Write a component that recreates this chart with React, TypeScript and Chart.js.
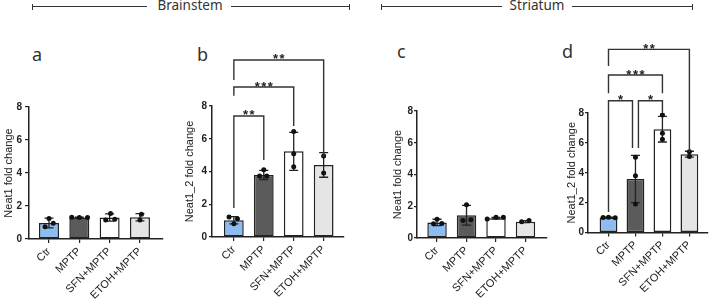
import React, { useEffect, useRef } from 'react';
import { Chart, registerables } from 'chart.js';
Chart.register(...registerables);

// ---------- data ----------
const categories = ['Ctr', 'MPTP', 'SFN+MPTP', 'ETOH+MPTP'];
const yTicks = [0, 2, 4, 6, 8];
const barColors = ['#8dbcf0', '#5b5b5b', '#ffffff', '#e5e5e5'];

// a: Brainstem, Neat1
const aMeans = [0.97, 1.3, 1.3, 1.32];
const aSD = [0.3, 0.03, 0.22, 0.22];
const aPoints = [[1.25, 0.75, 0.95], [1.32, 1.3, 1.3], [1.55, 1.15, 1.2], [1.5, 1.15]];
const aJitter = [[0, -0.13, 0.14], [-0.25, 0, 0.27], [0.03, -0.13, 0.17], [0.05, 0]];

// b: Brainstem, Neat1_2
const bMeans = [1.02, 3.79, 5.23, 4.4];
const bSD = [0.22, 0.28, 1.16, 0.75];
const bPoints = [[1.22, 1.12, 0.81], [4.11, 3.72, 3.72], [6.45, 5.09, 4.29], [4.95, 3.91]];
const bJitter = [[-0.16, 0.12, 0], [0, -0.14, 0.1], [0, 0, 0], [0, 0]];

// c: Striatum, Neat1
const cMeans = [0.98, 1.43, 1.25, 1.03];
const cSD = [0.2, 0.62, 0.05, 0.06];
const cPoints = [[1.18, 0.9, 0.92], [2.1, 1.1, 1.15], [1.2, 1.3, 1.3], [1.02, 1.1]];
const cJitter = [[0, -0.12, 0.16], [0, -0.12, 0.15], [-0.3, 0, 0.25], [-0.13, 0.12]];

// d: Striatum, Neat1_2
const dMeans = [1.0, 3.58, 6.92, 5.24];
const dSD = [0.03, 1.58, 0.86, 0.2];
const dPoints = [[1.0, 1.02, 0.98], [5.04, 3.8, 1.9], [7.87, 6.64, 6.24], [5.4, 5.08]];
const dJitter = [[-0.2, 0, 0.25], [0, 0, 0], [0, 0, 0], [0, 0]];

// significance annotations (data units)
type Bracket = { from: number; to: number; y: number; leftEnd: number; rightEnd: number; label: string };
const bBrackets: Bracket[] = [
  { from: 0, to: 1, y: 7.39, leftEnd: 1.77, rightEnd: 4.7, label: '**' },
  { from: 0, to: 2, y: 9.16, leftEnd: 8.62, rightEnd: 6.78, label: '***' },
  { from: 0, to: 3, y: 10.81, leftEnd: 9.59, rightEnd: 4.89, label: '**' },
];
const dBrackets: Bracket[] = [
  { from: 0, to: 0.89, y: 8.82, leftEnd: 1.37, rightEnd: 5.66, label: '*' },
  { from: 1.11, to: 2, y: 8.82, leftEnd: 5.66, rightEnd: 8.0, label: '*' },
  { from: 0, to: 2, y: 10.54, leftEnd: 9.33, rightEnd: 9.33, label: '***' },
  { from: 0, to: 3, y: 12.26, leftEnd: 11.14, rightEnd: 5.39, label: '**' },
];

// ---------- layout ----------
const W = 712;
const H = 300;
const FONT = "'Liberation Sans', Arial, sans-serif";

type Panel = {
  means: number[]; sd: number[]; points: number[][]; jitter: number[][];
  title: string; brackets: Bracket[];
  left: number; right: number; top: number; bottom: number; titleX: number;
  xMin: number; xMax: number; tick: number; tickPad: number;
};

const panels: Panel[] = [
  { means: aMeans, sd: aSD, points: aPoints, jitter: aJitter, title: 'Neat1 fold change', brackets: [],
    left: 29, right: 163, top: 107, bottom: 239, titleX: 8.5, xMin: -0.66, xMax: 3.76, tick: 4, tickPad: 3 },
  { means: bMeans, sd: bSD, points: bPoints, jitter: bJitter, title: 'Neat1_2 fold change', brackets: bBrackets,
    left: 212, right: 344, top: 106, bottom: 237, titleX: 190, xMin: -0.73, xMax: 3.68, tick: 3, tickPad: 2 },
  { means: cMeans, sd: cSD, points: cPoints, jitter: cJitter, title: 'Neat1 fold change', brackets: [],
    left: 417, right: 547, top: 111, bottom: 238, titleX: 398, xMin: -0.68, xMax: 3.73, tick: 3, tickPad: 1 },
  { means: dMeans, sd: dSD, points: dPoints, jitter: dJitter, title: 'Neat1_2 fold change', brackets: dBrackets,
    left: 588, right: 711, top: 113, bottom: 232.5, titleX: 572, xMin: -0.76, xMax: 3.69, tick: 3, tickPad: 1 },
];

function extrasPlugin(p: Panel) {
  return {
    id: 'extras',
    beforeDatasetDraw(chart: any, args: any) {
      if (args.index !== 1) return;
      const { ctx, scales } = chart;
      const x = scales.x, y = scales.y;
      ctx.save();
      ctx.strokeStyle = '#222';
      ctx.lineWidth = 1.3;
      p.means.forEach((m, i) => {
        const px = x.getPixelForValue(i);
        const top = y.getPixelForValue(m + p.sd[i]);
        const bot = y.getPixelForValue(Math.max(0, m - p.sd[i]));
        ctx.beginPath();
        ctx.moveTo(px, top); ctx.lineTo(px, bot);
        ctx.moveTo(px - 4.5, top); ctx.lineTo(px + 4.5, top);
        ctx.moveTo(px - 4.5, bot); ctx.lineTo(px + 4.5, bot);
        ctx.stroke();
      });
      ctx.restore();
    },
    afterDraw(chart: any) {
      const { ctx, scales } = chart;
      const x = scales.x, y = scales.y;
      ctx.save();
      ctx.strokeStyle = '#333';
      ctx.lineWidth = 1.4;
      ctx.fillStyle = '#222';
      ctx.font = `bold 13px ${FONT}`;
      (ctx as any).letterSpacing = '1.5px';
      ctx.textAlign = 'center';
      ctx.textBaseline = 'alphabetic';
      p.brackets.forEach((b) => {
        const x1 = x.getPixelForValue(b.from);
        const x2 = x.getPixelForValue(b.to);
        const yy = y.getPixelForValue(b.y);
        ctx.beginPath();
        ctx.moveTo(x1, y.getPixelForValue(b.leftEnd));
        ctx.lineTo(x1, yy);
        ctx.lineTo(x2, yy);
        ctx.lineTo(x2, y.getPixelForValue(b.rightEnd));
        ctx.stroke();
        ctx.fillText(b.label, (x1 + x2) / 2 + 0.75, yy + 3.5);
      });
      ctx.restore();
    },
  };
}

function makeChart(canvas: HTMLCanvasElement, p: Panel) {
  const yWidth = p.left - (p.titleX - 6.5);
  const xHeight = 60;
  const scatter = p.points.flatMap((arr, i) => arr.map((v, j) => ({ x: i + p.jitter[i][j], y: v })));
  return new Chart(canvas, {
    type: 'bar',
    data: {
      datasets: [
        {
          type: 'bar',
          data: p.means.map((m, i) => ({ x: i, y: m })) as any,
          backgroundColor: barColors,
          borderColor: '#222',
          borderWidth: 1.5,
          borderSkipped: false,
          categoryPercentage: 1,
          barPercentage: 0.66,
          order: 2,
        } as any,
        {
          type: 'scatter',
          data: scatter as any,
          backgroundColor: '#111',
          borderWidth: 0,
          pointRadius: 2.5,
          order: 1,
        } as any,
      ],
    },
    options: {
      responsive: false,
      animation: false,
      devicePixelRatio: 1,
      events: [],
      layout: {
        padding: {
          left: p.titleX - 6.5,
          right: W - p.right,
          top: p.top,
          bottom: H - p.bottom - xHeight,
        },
      },
      plugins: { legend: { display: false }, tooltip: { enabled: false } },
      scales: {
        x: {
          type: 'linear',
          min: p.xMin,
          max: p.xMax,
          offset: false,
          afterBuildTicks: (s: any) => { s.ticks = categories.map((_, i) => ({ value: i })); },
          afterFit: (s: any) => { s.height = xHeight; },
          ticks: {
            callback: (v: any) => categories[Math.round(Number(v))] ?? '',
            autoSkip: false,
            maxRotation: 45,
            minRotation: 45,
            padding: 2,
            color: '#222',
            font: { family: FONT, size: 11 },
          },
          grid: { drawOnChartArea: false, drawTicks: true, tickLength: 4, color: '#222', lineWidth: 1.2, offset: false },
          border: { display: true, color: '#222', width: 1.5 },
        } as any,
        y: {
          type: 'linear',
          min: 0,
          max: 8,
          afterBuildTicks: (s: any) => { s.ticks = yTicks.map((v) => ({ value: v })); },
          afterFit: (s: any) => { s.width = yWidth; },
          ticks: {
            color: '#222',
            padding: p.tickPad,
            font: { family: FONT, size: 10, weight: 'bold' },
          },
          grid: { drawOnChartArea: false, drawTicks: true, tickLength: p.tick, color: '#222', lineWidth: 1.2 },
          border: { display: true, color: '#222', width: 1.5 },
          title: {
            display: true,
            text: p.title,
            color: '#222',
            padding: 0,
            font: { family: FONT, size: 11, lineHeight: 1.2 },
          },
        } as any,
      },
    },
    plugins: [extrasPlugin(p)],
  });
}

const HEAD_FONT = "'Noto Sans', 'Open Sans', sans-serif";

function Header({ text, x1, x2, tx, gapL, gapR }: { text: string; x1: number; x2: number; tx: number; gapL: number; gapR: number }) {
  const line = (l: number, r: number) => (
    <div style={{ position: 'absolute', left: l, top: 6, width: r - l, height: 1.2, background: '#333' }} />
  );
  const cap = (l: number) => (
    <div style={{ position: 'absolute', left: l, top: 4, width: 1.2, height: 5.5, background: '#333' }} />
  );
  return (
    <>
      {line(x1, gapL)}
      {line(gapR, x2)}
      {cap(x1)}
      {cap(x2 - 1)}
      <div style={{ position: 'absolute', left: tx - 60, width: 120, top: -1, textAlign: 'center', font: `13.5px/1 ${HEAD_FONT}`, color: '#333', whiteSpace: 'nowrap' }}>{text}</div>
    </>
  );
}

function Letter({ ch, x, baseline }: { ch: string; x: number; baseline: number }) {
  return (
    <div style={{ position: 'absolute', left: x, top: baseline - 16, font: `18px/1 ${HEAD_FONT}`, color: '#333' }}>{ch}</div>
  );
}

export default function App() {
  const refs = [useRef<HTMLCanvasElement>(null), useRef<HTMLCanvasElement>(null), useRef<HTMLCanvasElement>(null), useRef<HTMLCanvasElement>(null)];
  useEffect(() => {
    const charts = panels.map((p, i) => makeChart(refs[i].current as HTMLCanvasElement, p));
    return () => charts.forEach((c) => c.destroy());
  }, []);
  return (
    <div style={{ position: 'absolute', left: 0, top: 0, width: W, height: H, background: '#fff', overflow: 'hidden' }}>
      <Header text="Brainstem" x1={32} x2={350} tx={190} gapL={147} gapR={231} />
      <Header text="Striatum" x1={381} x2={693} tx={537} gapL={502} gapR={572} />
      <Letter ch="a" x={32} baseline={61} />
      <Letter ch="b" x={197} baseline={61} />
      <Letter ch="c" x={397} baseline={58} />
      <Letter ch="d" x={562} baseline={58} />
      {refs.map((r, i) => (
        <canvas key={i} ref={r} width={W} height={H} style={{ position: 'absolute', left: 0, top: 0, pointerEvents: 'none' }} />
      ))}
    </div>
  );
}
